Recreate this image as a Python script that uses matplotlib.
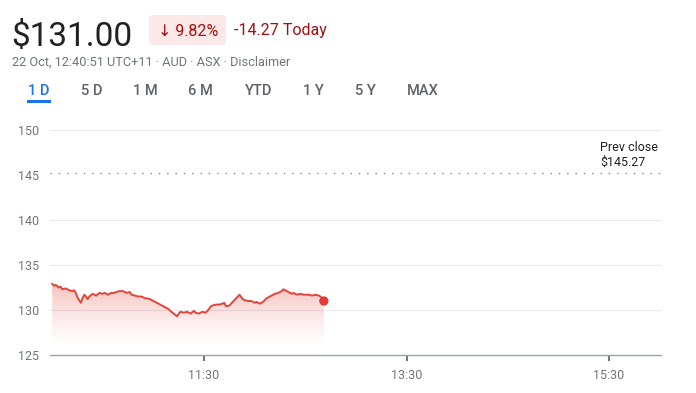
import numpy as np
import matplotlib.pyplot as plt
from matplotlib.patches import FancyBboxPatch, Polygon

plt.rcParams['font.family'] = ['Roboto', 'DejaVu Sans']

# minutes after 10:00 open, and price in AUD
minutes = [0, 1, 2, 4, 5, 6, 8, 10, 12, 13, 14, 15, 17, 18, 19, 20, 21, 22, 24, 26,
           28, 30, 31, 33, 35, 37, 38, 40, 42, 44, 46, 47, 49, 51, 53, 55, 56, 58, 60, 62,
           63, 65, 67, 69, 70, 72, 74, 75, 76, 78, 80, 82, 84, 85, 87, 89, 91, 92, 94, 95,
           97, 99, 101, 102, 103, 105, 107, 108, 110, 111, 113, 114, 116, 118, 120, 121, 123, 125, 127, 129,
           130, 132, 134, 136, 137, 138, 140, 142, 143, 145, 147, 149, 150, 152, 154, 156, 158, 159, 160, 161]
prices = [132.9, 132.7, 132.8, 132.5, 132.6, 132.3, 132.4, 132.2, 132.1, 132.2, 131.9, 131.4, 130.8, 131.3, 131.7, 131.5, 131.2, 131.5, 131.8, 131.6,
          131.9, 131.8, 131.9, 131.7, 131.9, 131.9, 132.0, 132.1, 132.1, 131.9, 132.0, 131.7, 131.6, 131.5, 131.5, 131.3, 131.3, 131.2, 131.0, 130.8,
          130.7, 130.5, 130.3, 130.1, 129.9, 129.6, 129.3, 129.6, 129.8, 129.7, 129.8, 129.6, 129.9, 129.7, 129.6, 129.8, 129.7, 129.9, 130.4, 130.5,
          130.6, 130.6, 130.7, 130.8, 130.4, 130.5, 130.9, 131.1, 131.5, 131.7, 131.2, 131.1, 131.0, 131.0, 130.8, 130.9, 130.7, 130.9, 131.3, 131.5,
          131.6, 131.8, 131.9, 132.1, 132.3, 132.2, 132.0, 131.8, 131.9, 131.7, 131.8, 131.7, 131.7, 131.7, 131.6, 131.7, 131.6, 131.5, 131.3, 131.0]
prev_close = 145.27
price_now = "$131.00"
pct_change = "\u2193 9.82%"
abs_change = "-14.27 Today"
subtitle = "22 Oct, 12:40:51 UTC+11 \u00b7 AUD \u00b7 ASX \u00b7 Disclaimer"
tabs = ["1 D", "5 D", "1 M", "6 M", "YTD", "1 Y", "5 Y", "MAX"]
tab_x = [38.5, 91.5, 145.5, 200.5, 258.5, 313.5, 365, 422.5]
y_ticks = [125, 130, 135, 140, 145, 150]
x_ticks = [90, 210, 330]
x_labels = ["11:30", "13:30", "15:30"]

W, H = 696, 393
fig = plt.figure(figsize=(W / 100, H / 100), dpi=100)
fig.patch.set_facecolor('white')

def px(x, y):
    return x / W, 1 - y / H

red = '#e0463a'
dark_red = '#a50e0e'
grey = '#70757a'

# header
fig.text(*px(11, 46), price_now, fontsize=24, color='#202124', va='baseline')
badge = FancyBboxPatch(px(149, 45), 77 / W, 30 / H, boxstyle='round,pad=0,rounding_size=0.008',
                       transform=fig.transFigure, facecolor='#fce8e6', edgecolor='none')
fig.patches.append(badge)
fig.text(*px(188, 31), pct_change, fontsize=11.5, color=dark_red, ha='center', va='center')
fig.text(*px(234, 31), abs_change, fontsize=11.5, color=dark_red, va='center')
fig.text(*px(12, 62), subtitle, fontsize=9.2, color=grey, va='center')

for lab, xc in zip(tabs, tab_x):
    c = '#1a73e8' if lab == "1 D" else '#5f6368'
    fig.text(*px(xc, 91), lab, fontsize=10.5, color=c, ha='center', va='center', fontweight='medium')
fig.patches.append(plt.Rectangle(px(27, 103), 24 / W, 3 / H, transform=fig.transFigure,
                                 facecolor='#1a73e8', edgecolor='none'))

# chart
ax = fig.add_axes([50 / W, 1 - 355 / H, 611 / W, 225 / H])
ax.set_xlim(-1.3, 360.8)
ax.set_ylim(125, 150)
for s in ['top', 'right', 'left']:
    ax.spines[s].set_visible(False)
ax.spines['bottom'].set_color('#9aa0a6')
ax.spines['bottom'].set_linewidth(1)

for yv in y_ticks[1:]:
    if yv != 145:
        ax.axhline(yv, color='#e8eaed', lw=0.8, zorder=0)

ax.axhline(prev_close, color='#80868b', lw=1, ls=(0, (1, 5)), zorder=1)
ax.text(1 - 61 / 611, (148.1 - 125) / 25, "Prev close", transform=ax.transAxes,
        fontsize=9, color='#202124', va='center')
ax.text(1 - 61 / 611, (146.4 - 125) / 25, "$145.27", transform=ax.transAxes,
        fontsize=9, color='#202124', va='center')

# gradient fill under the line
grad = np.linspace(0, 1, 256).reshape(-1, 1)
rgba = np.zeros((256, 1, 4))
rgba[..., 0] = 0.88
rgba[..., 1] = 0.27
rgba[..., 2] = 0.23
rgba[..., 3] = (grad ** 1.4) * 0.34
im = ax.imshow(rgba, extent=[minutes[0], minutes[-1], 125.8, 133], origin='lower',
               aspect='auto', zorder=1)
verts = list(zip(minutes, prices)) + [(minutes[-1], 125), (minutes[0], 125)]
poly = Polygon(verts, closed=True, facecolor='none', edgecolor='none')
ax.add_patch(poly)
im.set_clip_path(poly)

ax.plot(minutes, prices, color=red, lw=1.4, zorder=3, solid_joinstyle='round')
ax.scatter([minutes[-1]], [prices[-1]], s=45, color='#e53935', zorder=4, edgecolors='none')

ax.set_yticks(y_ticks)
ax.set_yticklabels([str(v) for v in y_ticks])
ax.tick_params(axis='y', length=0, pad=8, labelsize=9, labelcolor=grey)
ax.set_xticks(x_ticks)
ax.set_xticklabels(x_labels)
ax.tick_params(axis='x', length=4, width=1.5, color=grey, pad=6, labelsize=9, labelcolor=grey)

fig.savefig('out.png', dpi=100)
